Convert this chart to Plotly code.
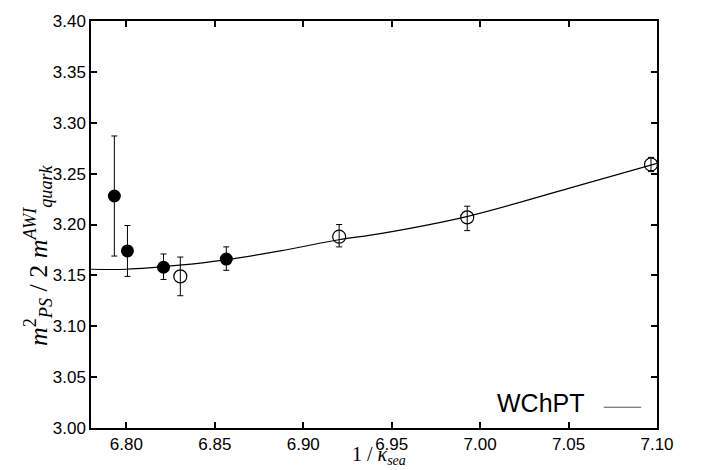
import plotly.graph_objects as go

# filled points (left group)
filled_x = [6.7932, 6.8006, 6.821, 6.8565]
filled_y = [3.228, 3.174, 3.158, 3.166]
filled_err_plus = [0.059, 0.025, 0.013, 0.012]
filled_err_minus = [0.059, 0.025, 0.012, 0.011]

# open points
open_x = [6.8305, 6.9203, 6.9927, 7.0966]
open_y = [3.149, 3.188, 3.207, 3.259]
open_err_plus = [0.019, 0.012, 0.011, 0.007]
open_err_minus = [0.019, 0.010, 0.013, 0.007]

# WChPT fit curve
fit_x = [6.78, 6.80, 6.83, 6.855, 6.887, 6.92, 6.9435, 6.993, 7.051, 7.10]
fit_y = [3.156, 3.156, 3.160, 3.165, 3.174, 3.185, 3.191, 3.208, 3.236, 3.260]

x_ticks = [6.80, 6.85, 6.90, 6.95, 7.00, 7.05, 7.10]
y_ticks = [3.00, 3.05, 3.10, 3.15, 3.20, 3.25, 3.30, 3.35, 3.40]

fig = go.Figure()

fig.add_trace(go.Scatter(
    x=fit_x, y=fit_y, mode="lines", line=dict(color="black", width=1.2, shape="spline"),
    showlegend=False, hoverinfo="skip"))

fig.add_trace(go.Scatter(
    x=filled_x, y=filled_y, mode="markers",
    marker=dict(symbol="circle", size=13, color="black"),
    error_y=dict(type="data", array=filled_err_plus, arrayminus=filled_err_minus,
                 color="black", thickness=1, width=3),
    showlegend=False))

fig.add_trace(go.Scatter(
    x=open_x, y=open_y, mode="markers",
    marker=dict(symbol="circle-open", size=13, color="black", line=dict(width=1.2)),
    error_y=dict(type="data", array=open_err_plus, arrayminus=open_err_minus,
                 color="black", thickness=1, width=3),
    showlegend=False))

axis_common = dict(
    showline=True, linecolor="black", linewidth=1.5, mirror="ticks",
    ticks="inside", ticklen=6, tickwidth=1.5, tickcolor="black",
    showgrid=False, zeroline=False,
    tickfont=dict(family="Liberation Sans, Arial, sans-serif", size=17, color="black"),
)

fig.update_xaxes(
    range=[6.78, 7.10], tickvals=x_ticks, ticktext=[f"{v:.2f}" for v in x_ticks],
    **axis_common)
fig.update_yaxes(
    range=[3.00, 3.40], tickvals=y_ticks, ticktext=[f"{v:.2f}" for v in y_ticks],
    **axis_common)

serif = "Liberation Serif, Times New Roman, serif"

# x-axis title
fig.add_annotation(
    x=0.508, y=0, xref="paper", yref="paper", yshift=-42, text="1 / <i>κ<sub>sea</sub></i>",
    showarrow=False, xanchor="center", yanchor="bottom",
    font=dict(family=serif, size=20, color="black"))

# y-axis title
fig.add_annotation(
    x=0, y=0.425, xref="paper", yref="paper", xshift=-53,
    text="<i>m</i><sup>2</sup><sub><i>PS</i></sub> / 2 <i>m</i><sup><i>AWI</i></sup><sub><i>quark</i></sub>",
    showarrow=False, textangle=-90, xanchor="center", yanchor="middle",
    font=dict(family=serif, size=26, color="black"))

# legend entry
fig.add_annotation(
    x=0.876, y=0.061, xref="paper", yref="paper", text="WChPT", showarrow=False,
    xanchor="right", yanchor="middle",
    font=dict(family="Liberation Sans, Arial, sans-serif", size=25, color="black"))
fig.add_shape(type="line", xref="paper", yref="paper", x0=0.906, x1=0.972, y0=0.051, y1=0.051,
              line=dict(color="#555555", width=1))

fig.update_layout(
    width=705, height=470,
    margin=dict(l=91, r=48, t=16, b=42),
    paper_bgcolor="white", plot_bgcolor="white",
)

fig.write_html("out.html", config={"displayModeBar": False},
               post_script="document.body.style.margin='0';")
